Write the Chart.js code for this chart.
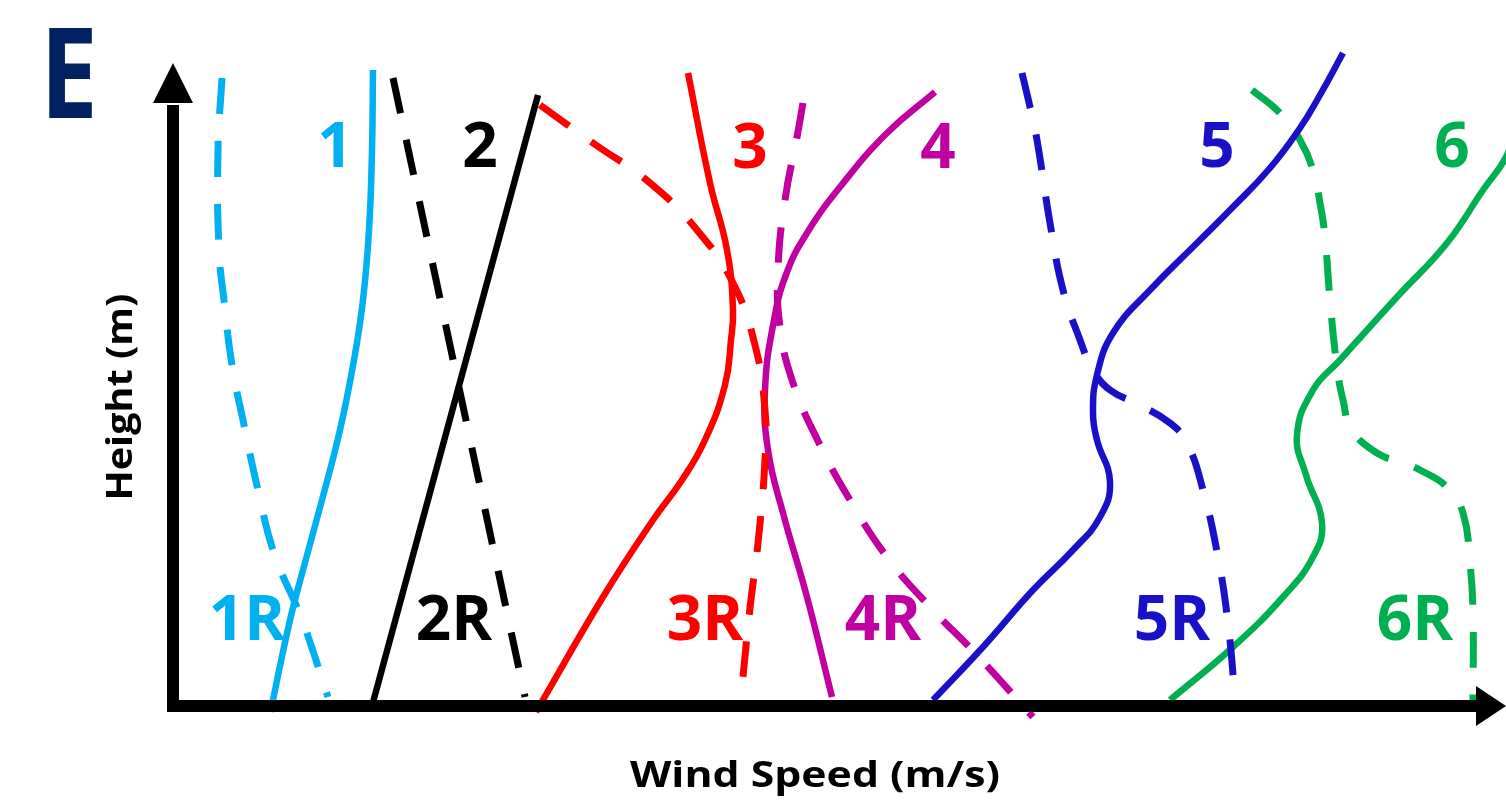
<!DOCTYPE html>
<html>
<head>
<meta charset="utf-8">
<title>Wind speed profiles</title>
<script src="https://cdn.jsdelivr.net/npm/chart.js@4.4.1/dist/chart.umd.min.js"></script>
<style>
    html, body { margin: 0; padding: 0; background: #fff; }
    #wrap { position: relative; width: 1506px; height: 802px; }
</style>
</head>
<body>
<div id="wrap"><canvas id="profileChart"></canvas></div>
<script>
// ── Data (schematic units: x = wind speed, y = height) ──────────────
var profile1  = [[200,636],[199,556],[196,476],[190,406],[181,346],[167,276],[149,206],[130,136],[117,86],[100,6],[98,-6]];
var profile1R = [[49,628],[45,556],[46,456],[51,406],[59,341],[71,281],[85,216],[101,153],[129,86],[155,9]];
var profile2  = [[365,611],[199,0]];
var profile2R = [[220,628],[352,9]];
var profile3  = [[515,633],[537,523],[554,456],[560,396],[558,366],[552,321],[532,266],[509,226],[480,186],[430,109],[367,1],[363,-6]];
var profile3R = [[367,601],[420,563],[477,523],[524,476],[560,423],[582,361],[592,296],[592,246],[585,163],[577,98],[568,9]];
var profile4  = [[762,614],[714,573],[667,519],[634,473],[614,434],[601,386],[592,316],[595,256],[610,193],[634,109],[659,9]];
var profile4R = [[630,603],[624,569],[612,506],[605,436],[607,379],[620,323],[646,263],[677,206],[714,149],[757,99],[802,53],[860,-11]];
var profile5  = [[1170,653],[1147,611],[1127,578],[1097,538],[1057,496],[1027,466],[977,416],[940,373],[924,331],[920,293],[924,266],[937,224],[927,189],[900,156],[860,116],[810,59],[760,6]];
var profile5R = [[849,633],[857,599],[864,566],[877,483],[890,416],[907,366],[920,336],[937,316],[967,301],[997,283],[1014,263],[1030,216],[1045,149],[1055,83],[1062,9]];
var profile6  = [[1342,578],[1333,549],[1310,516],[1274,463],[1224,409],[1167,346],[1140,316],[1124,271],[1133,231],[1149,183],[1140,149],[1110,109],[1060,59],[997,6]];
var profile6R = [[1079,616],[1107,593],[1127,566],[1140,536],[1147,503],[1152,469],[1157,406],[1164,339],[1170,306],[1179,276],[1204,253],[1230,243],[1247,236],[1274,219],[1290,193],[1297,143],[1300,93],[1300,6]];

var seriesNames = ['1', '1R', '2', '2R', '3', '3R', '4', '4R', '5', '5R', '6', '6R'];
var seriesData  = [profile1, profile1R, profile2, profile2R, profile3, profile3R,
                   profile4, profile4R, profile5, profile5R, profile6, profile6R];

// label anchors (same units as the data)
var labelPoints = [[162,559],[74,86],[307,559],[281,86],[577,558],[532,86],
                   [765,558],[710,86],[1044,559],[999,86],[1279,559],[1242,86]];

// ── Styles ──────────────────────────────────────────────────────────
var COLORS = {
    '1': '#00B0F0', '2': '#000000', '3': '#FF0000',
    '4': '#C000A0', '5': '#1A10C8', '6': '#00B050'
};
var X_RANGE = [-173, 1333];
var Y_RANGE = [-96, 706];
var Y_TIP = 643, Y_HEAD = 603;
var X_TIP = 1333, X_HEAD = 1303;
var LABEL_FONT = 'bold 62px "Open Sans", sans-serif';
var AXIS_FONT  = 'bold 35px "Open Sans", sans-serif';

function toPoints(arr) {
    return arr.map(function (p) { return { x: p[0], y: p[1] }; });
}

var datasets = seriesNames.map(function (name, i) {
    var dashed = name.indexOf('R') > -1;
    return {
        label: name,
        data: toPoints(seriesData[i]),
        borderColor: COLORS[name.charAt(0)],
        borderWidth: dashed ? 7 : 6.5,
        borderDash: dashed ? [36, 27] : [],
        borderCapStyle: 'butt',
        tension: 0.45,
        pointRadius: 0,
        fill: false
    };
});

// stretch text to a given width, centred on (cx, cy)
function fitText(ctx, text, cx, cy, width, angle) {
    var w = ctx.measureText(text).width;
    ctx.save();
    ctx.translate(cx, cy);
    if (angle) ctx.rotate(angle);
    ctx.scale(width / w, 1);
    ctx.fillText(text, 0, 0);
    ctx.restore();
}

// ── Axes, arrows and texts ──────────────────────────────────────────
var decorPlugin = {
    id: 'decor',
    afterDatasetsDraw: function (chart) {
        var ctx = chart.ctx;
        var xs = chart.scales.x, ys = chart.scales.y;
        var x0 = xs.getPixelForValue(0), y0 = ys.getPixelForValue(0);

        ctx.save();
        ctx.fillStyle = '#000';
        ctx.strokeStyle = '#000';
        ctx.lineWidth = 12;
        ctx.lineCap = 'butt';

        // y axis
        ctx.beginPath();
        ctx.moveTo(x0, y0 + 6);
        ctx.lineTo(x0, ys.getPixelForValue(Y_HEAD) + 2);
        ctx.stroke();
        ctx.beginPath();
        ctx.moveTo(x0, ys.getPixelForValue(Y_TIP));
        ctx.lineTo(x0 - 20, ys.getPixelForValue(Y_HEAD));
        ctx.lineTo(x0 + 20, ys.getPixelForValue(Y_HEAD));
        ctx.closePath();
        ctx.fill();

        // x axis
        ctx.beginPath();
        ctx.moveTo(x0 - 6, y0);
        ctx.lineTo(xs.getPixelForValue(X_HEAD) + 2, y0);
        ctx.stroke();
        ctx.beginPath();
        ctx.moveTo(xs.getPixelForValue(X_TIP), y0);
        ctx.lineTo(xs.getPixelForValue(X_HEAD), y0 - 20);
        ctx.lineTo(xs.getPixelForValue(X_HEAD), y0 + 20);
        ctx.closePath();
        ctx.fill();

        // curve labels
        ctx.font = LABEL_FONT;
        ctx.textAlign = 'center';
        ctx.textBaseline = 'middle';
        seriesNames.forEach(function (name, i) {
            ctx.fillStyle = COLORS[name.charAt(0)];
            ctx.fillText(name, xs.getPixelForValue(labelPoints[i][0]), ys.getPixelForValue(labelPoints[i][1]) + 2);
        });

        // axis titles
        ctx.fillStyle = '#000';
        ctx.font = AXIS_FONT;
        fitText(ctx, 'Wind Speed (m/s)', 815, 777, 370, 0);
        fitText(ctx, 'Height (m)', 122, 397, 207, -Math.PI / 2);

        // panel letter
        ctx.fillStyle = '#002060';
        ctx.font = 'bold 126px "Open Sans", sans-serif';
        ctx.save();
        ctx.translate(69, 82);
        ctx.scale(0.82, 1);
        ctx.fillText('E', 0, 0);
        ctx.restore();

        ctx.restore();
    }
};

new Chart(document.getElementById('profileChart'), {
    type: 'line',
    data: { datasets: datasets },
    options: {
        responsive: true,
        maintainAspectRatio: false,
        animation: false,
        layout: { padding: 0 },
        plugins: {
            legend: { display: false },
            tooltip: { enabled: false }
        },
        scales: {
            x: { type: 'linear', display: false, min: X_RANGE[0], max: X_RANGE[1] },
            y: { type: 'linear', display: false, min: Y_RANGE[0], max: Y_RANGE[1] }
        }
    },
    plugins: [decorPlugin]
});
</script>
</body>
</html>
